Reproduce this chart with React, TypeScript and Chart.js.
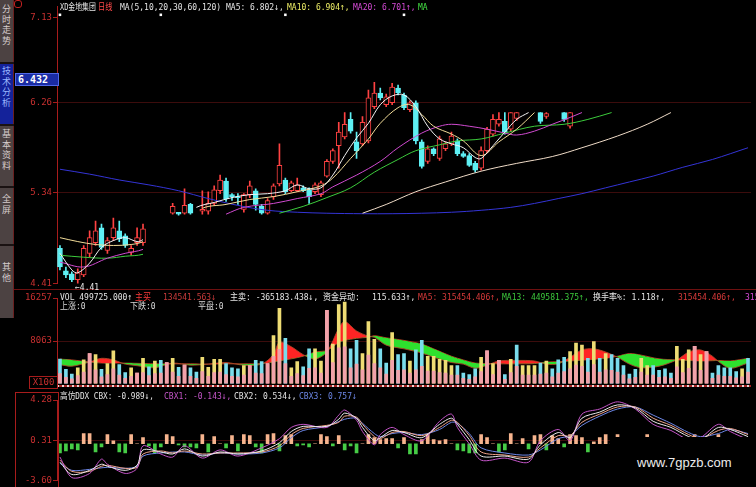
import { useEffect, useRef } from "react";
import { Chart, registerables } from "chart.js";

Chart.register(...registerables);

// ---------------- data ----------------
const BAR_COUNT = 117;
const dayLabels: string[] = Array.from({ length: BAR_COUNT }, (_, i) => `D${i + 1}`);

const priceTicks = [4.41, 5.34, 6.26, 7.13];
const volumeTicks = [8063, 16257];
const cbxTicks = [-3.6, 0.31, 4.28];

// [bar, open, high, low, close]
const candles: [number, number, number, number, number][] = [
  [0, 4.77, 4.8, 4.55, 4.58], [1, 4.54, 4.58, 4.47, 4.5], [2, 4.51, 4.53, 4.43, 4.45],
  [3, 4.45, 4.56, 4.41, 4.52], [4, 4.5, 4.8, 4.48, 4.77], [5, 4.72, 4.95, 4.68, 4.88],
  [6, 4.83, 5.05, 4.8, 4.95], [7, 4.98, 5.02, 4.76, 4.78], [8, 4.75, 4.88, 4.72, 4.85],
  [9, 4.88, 5.08, 4.85, 4.98], [10, 4.95, 5.05, 4.84, 4.87], [11, 4.9, 4.92, 4.78, 4.8],
  [12, 4.73, 4.8, 4.7, 4.77], [13, 4.83, 4.98, 4.8, 4.88], [14, 4.83, 5.02, 4.8, 4.97],
  [19, 5.13, 5.23, 5.12, 5.2], [20, 5.14, 5.14, 5.11, 5.12], [21, 5.13, 5.38, 5.12, 5.21],
  [22, 5.22, 5.23, 5.12, 5.13], [24, 5.15, 5.36, 5.12, 5.17], [25, 5.15, 5.35, 5.12, 5.23],
  [26, 5.23, 5.41, 5.21, 5.37], [27, 5.36, 5.52, 5.33, 5.47], [28, 5.46, 5.49, 5.25, 5.28],
  [29, 5.32, 5.33, 5.26, 5.3], [30, 5.3, 5.33, 5.22, 5.29], [31, 5.17, 5.33, 5.14, 5.32],
  [32, 5.32, 5.46, 5.29, 5.41], [33, 5.36, 5.38, 5.16, 5.22], [34, 5.2, 5.22, 5.12, 5.13],
  [35, 5.13, 5.28, 5.12, 5.26], [36, 5.3, 5.43, 5.27, 5.41], [37, 5.43, 5.84, 5.41, 5.62],
  [38, 5.47, 5.49, 5.33, 5.35], [39, 5.36, 5.46, 5.35, 5.44], [40, 5.36, 5.49, 5.35, 5.42],
  [41, 5.39, 5.41, 5.35, 5.36], [42, 5.37, 5.39, 5.23, 5.3], [43, 5.35, 5.44, 5.33, 5.42],
  [44, 5.32, 5.46, 5.3, 5.44], [45, 5.51, 5.68, 5.5, 5.66], [46, 5.66, 5.79, 5.64, 5.77],
  [47, 5.82, 6.06, 5.59, 5.96], [48, 5.91, 6.16, 5.89, 6.04], [49, 6.09, 6.16, 5.95, 5.97],
  [50, 5.86, 5.96, 5.69, 5.77], [51, 5.84, 6.12, 5.82, 6.06], [52, 5.87, 6.39, 5.85, 6.31],
  [53, 6.22, 6.47, 6.2, 6.36], [54, 6.36, 6.41, 6.29, 6.31], [55, 6.24, 6.35, 6.22, 6.32],
  [56, 6.26, 6.46, 6.24, 6.42], [57, 6.41, 6.44, 6.34, 6.36], [58, 6.34, 6.36, 6.19, 6.21],
  [59, 6.19, 6.28, 6.17, 6.26], [60, 6.26, 6.28, 5.84, 5.87], [61, 5.86, 5.88, 5.59, 5.61],
  [62, 5.66, 5.82, 5.64, 5.79], [63, 5.79, 5.8, 5.72, 5.74], [64, 5.69, 5.92, 5.67, 5.89],
  [65, 5.79, 5.86, 5.77, 5.84], [66, 5.84, 5.96, 5.82, 5.92], [67, 5.87, 5.89, 5.72, 5.74],
  [68, 5.74, 5.76, 5.7, 5.71], [69, 5.72, 5.74, 5.61, 5.62], [70, 5.64, 5.66, 5.55, 5.57],
  [71, 5.59, 5.81, 5.57, 5.77], [72, 5.77, 6.01, 5.75, 5.99], [73, 5.94, 6.14, 5.92, 6.09],
  [74, 6.04, 6.16, 6.02, 6.09], [75, 6.07, 6.16, 5.94, 5.96], [76, 5.99, 6.16, 5.97, 6.16],
  [77, 6.1, 6.16, 6.08, 6.16], [81, 6.16, 6.16, 6.05, 6.07], [82, 6.12, 6.16, 6.1, 6.15],
  [85, 6.16, 6.16, 6.07, 6.09], [86, 6.02, 6.16, 6.0, 6.16],
];

// moving averages, [bar, value]
const ma5Points: [number, number][] = [
  [0, 4.72], [2, 4.55], [3, 4.52], [5, 4.62], [7, 4.78], [9, 4.85], [11, 4.88], [13, 4.84], [14, 4.86],
  [23, 5.19], [26, 5.24], [29, 5.29], [32, 5.32], [35, 5.33], [38, 5.36], [40, 5.42], [42, 5.38],
  [44, 5.39], [46, 5.52], [48, 5.72], [50, 5.9], [52, 6.05], [54, 6.24], [56, 6.33], [58, 6.34],
  [60, 6.22], [62, 6.02], [64, 5.89], [66, 5.84], [68, 5.8], [70, 5.7], [71, 5.69], [73, 5.82],
  [75, 5.96], [77, 6.09], [79, 6.16],
];
const ma10Points: [number, number][] = [
  [0, 4.88], [3, 4.84], [6, 4.81], [9, 4.8], [12, 4.81], [14, 4.84],
  [24, 5.18], [28, 5.22], [32, 5.27], [36, 5.3], [40, 5.35], [44, 5.41], [46, 5.49], [49, 5.69],
  [52, 5.89], [54, 6.05], [57, 6.21], [59, 6.24], [61, 6.14], [63, 6.02], [66, 5.94], [68, 5.87],
  [71, 5.72], [74, 5.86], [77, 5.99], [80, 6.16],
];
const ma20Points: [number, number][] = [
  [0, 4.63], [4, 4.58], [8, 4.67], [11, 4.72], [14, 4.76],
  [28, 5.12], [31, 5.19], [36, 5.23], [40, 5.28], [44, 5.33], [46, 5.4], [50, 5.52], [54, 5.66],
  [57, 5.8], [61, 5.95], [64, 6.02], [66, 6.04], [69, 6.02], [72, 5.99], [75, 5.95], [77, 5.93],
  [80, 5.97], [83, 6.04], [86, 6.11], [88, 6.16],
];
const ma30Points: [number, number][] = [
  [0, 4.7], [4, 4.68], [8, 4.67], [11, 4.69], [14, 4.71],
  [37, 5.13], [41, 5.2], [45, 5.29], [49, 5.39], [53, 5.55], [57, 5.68], [60, 5.77], [64, 5.83],
  [67, 5.87], [71, 5.89], [75, 5.95], [80, 6.02], [85, 6.04], [89, 6.09], [93, 6.16],
];
const ma60Points: [number, number][] = [
  [51, 5.13], [55, 5.22], [60, 5.35], [65, 5.45], [71, 5.56], [77, 5.64], [83, 5.71], [88, 5.8],
  [94, 5.92], [99, 6.04], [103, 6.16],
];
const ma120Points: [number, number][] = [
  [0, 5.58], [5, 5.53], [10, 5.47], [15, 5.42], [20, 5.36], [25, 5.28], [30, 5.21], [35, 5.16],
  [40, 5.14], [45, 5.13], [51, 5.125], [56, 5.125], [61, 5.13], [66, 5.14], [71, 5.16], [76, 5.19],
  [80, 5.23], [84, 5.28], [88, 5.33], [92, 5.39], [96, 5.45], [100, 5.51], [105, 5.6], [110, 5.68],
  [116, 5.8],
];
const noticeMarks: [number, number][] = [[0, 7.16], [17, 7.16], [38, 7.16], [58, 7.16]];

// volume (x100 shares)
const volTotal = [
  4650, 2700, 1800, 3000, 4500, 5700, 5500, 2700, 3800, 6200,
  3600, 2100, 3000, 2000, 4800, 3200, 4300, 4400, 4000, 4800,
  3100, 3500, 3000, 2200, 5000, 3100, 4600, 4600, 3800, 3000,
  2800, 3400, 3400, 4400, 4200, 3800, 9100, 14300, 8600, 3000,
  4200, 3200, 6600, 6600, 4300, 13900, 7500, 15000, 15500, 6600,
  8200, 5700, 11800, 8400, 6600, 3900, 9700, 5500, 5700, 4300,
  6400, 8200, 5200, 5200, 4600, 4400, 3400, 3400, 2000, 1700,
  2800, 5000, 6200, 3800, 4400, 1700, 4600, 7300, 3400, 3400,
  3400, 3900, 4300, 2800, 4500, 5000, 6100, 7700, 7300, 4800,
  8000, 4800, 5700, 5500, 4800, 3400, 1800, 2700, 4800, 3400,
  3400, 2500, 2800, 2000, 7100, 4600, 6400, 7100, 5500, 6100,
  2000, 3400, 3000, 3000, 2300, 2800, 4800,
];
const volBase = [
  1900, 1200, 900, 1500, 2200, 5700, 2600, 1300, 1700, 2800,
  1600, 1000, 1400, 2000, 2100, 1500, 1900, 2000, 4000, 2200,
  1400, 3500, 1400, 1000, 2300, 1400, 2100, 2200, 1700, 1400,
  1300, 1600, 3400, 2000, 1900, 3800, 5200, 6500, 3800, 1400,
  1900, 1500, 2900, 3000, 2000, 13900, 4000, 6800, 7000, 3000,
  3700, 2600, 5400, 3800, 3000, 1800, 4400, 2500, 2600, 2000,
  2600, 3300, 2400, 2400, 2100, 2000, 1600, 1600, 1000, 800,
  1300, 2300, 6200, 1700, 4400, 800, 2100, 3300, 1600, 1600,
  1600, 1800, 2000, 1300, 2000, 2300, 2800, 3500, 3300, 2200,
  3600, 2200, 2600, 2500, 2200, 1600, 900, 1200, 2200, 1600,
  1600, 1200, 1300, 1000, 3200, 2100, 2900, 7100, 2500, 6100,
  1000, 1600, 1400, 1400, 1100, 1300, 2200,
];
// top colour of each volume bar: c = falling, y = rising, p = heavy selling
const volTone =
  "cccyypycyy" + "ccypycycpy" + "cpccyyyycc" + "cypccpyycy" + "yccyypyyyc" +
  "cyyyccyccy" + "ccyyyyyccc" + "cypypcycyy" + "ycycccyyyc" + "ycycccccyy" +
  "ccccyyypyp" + "cccccyc";

// volume averages (fast / slow), [bar, value]
const volMa5Points: [number, number][] = [
  [0, 3600], [2, 3300], [5, 4100], [7, 4800], [9, 4500], [11, 3700], [13, 3400], [16, 3000],
  [19, 3900], [22, 3500], [25, 3700], [28, 4000], [31, 3500], [34, 3700], [36, 5500], [37, 7850],
  [39, 7000], [41, 5500], [43, 4650], [45, 6000], [47, 10500], [48, 11800], [50, 10000], [52, 9000],
  [53, 8800], [55, 7300], [58, 6600], [61, 5800], [63, 5000], [66, 4000], [68, 3700], [70, 2900],
  [72, 3500], [74, 4300], [77, 4400], [80, 4300], [82, 3700], [84, 3750], [86, 5000], [88, 6400],
  [90, 6600], [92, 6000], [94, 5000], [96, 3700], [98, 3000], [101, 3300], [104, 4500], [106, 6000],
  [108, 6400], [110, 5200], [111, 4200], [113, 2900], [116, 3900],
];
const volMa13Points: [number, number][] = [
  [0, 4650], [2, 4500], [5, 4100], [7, 3900], [9, 3900], [11, 3900], [13, 3850], [16, 3750],
  [19, 3750], [22, 3750], [25, 3700], [28, 3750], [31, 3750], [34, 3800], [36, 4100], [37, 4300],
  [39, 4700], [41, 5200], [43, 6000], [45, 6300], [47, 7800], [48, 8200], [50, 8600], [52, 8800],
  [53, 9100], [55, 8700], [58, 8200], [61, 7500], [63, 6600], [66, 5200], [68, 4500], [70, 3900],
  [72, 3800], [74, 3750], [77, 3750], [80, 3800], [82, 4100], [84, 4150], [86, 4300], [88, 4450],
  [90, 4600], [92, 4800], [94, 5200], [96, 5700], [98, 5400], [101, 4700], [104, 4500], [106, 4400],
  [108, 4300], [110, 4350], [111, 4400], [113, 4300], [116, 4800],
];

// 高仿DDX
const cbxBars = [
  -0.9, -0.7, -0.5, -0.6, 1.0, 1.0, -0.8, -0.3, 0.9, 0.3,
  -0.8, -0.9, 0.9, 0, 0.6, -0.2, -0.9, -0.3, 0.9, 0.7,
  -0.1, -0.3, -0.3, -0.4, 0.9, -0.8, 0.7, 0, -0.4, 0.8,
  -0.7, 0.9, 0.8, -0.3, -0.9, 0.9, 1.0, -0.7, 0.8, 0.9,
  -0.2, -0.1, -0.3, 0, 0.9, 0.7, -0.2, 0.8, -0.6, -0.2,
  -0.9, 0, 0.9, 0.6, 0.4, 0.5, 0.5, -0.4, 0.6, -1.0,
  -1.0, 0.4, 0.9, 0.4, 0.3, 0.4, 0, -0.6, -0.7, -0.9,
  -0.9, 0.9, 0.6, 0, -0.8, -0.6, 1.0, 0, 0.5, -0.5,
  0.8, 0.9, -0.6, 0.8, 0.5, -0.3, 0.9, 0.8, 0.6, -0.8,
  0.2, 0.6, 0.9, 0, 0.9, 0, 0, 0, 0, 0.9,
  0, 0, 0, 0, 0, 0, 0, 0.9, 0, 0,
  0, 0.9, 0, 0, 0, 0, 0,
];
const cbxPoints: [number, number][] = [
  [0, -1.8], [2, -3.0], [5, -2.6], [7, -2.0], [8, -2.2], [11, -2.6], [13, -2.1], [14, -0.6],
  [17, -0.8], [19, -1.0], [21, -0.5], [24, -1.2], [27, -0.8], [30, -1.0], [34, -0.7], [37, 0.1],
  [39, 1.2], [41, 1.7], [45, 1.7], [47, 2.4], [48, 3.0], [50, 2.5], [51, 1.6], [53, 0.3],
  [54, 0.6], [56, 1.3], [58, 1.1], [61, 0.6], [64, 1.9], [66, 2.5], [67, 1.9], [69, 0.4],
  [71, -1.2], [75, -1.2], [79, -1.5], [81, -0.1], [84, 1.1], [86, 0.6], [88, 2.5], [91, 3.1],
  [94, 3.8], [97, 3.5], [100, 2.2], [103, 1.6], [106, 0.7], [108, 0.4], [111, 1.6], [113, 1.4],
  [116, 0.7],
];
const cbx1Points: [number, number][] = [
  [0, -1.3], [2, -3.3], [5, -2.9], [7, -1.5], [8, -2.0], [11, -2.9], [13, -2.4], [14, -0.2],
  [17, -1.0], [19, -1.3], [21, -0.2], [24, -1.4], [27, -0.6], [30, -1.2], [34, -0.4], [37, 0.5],
  [39, 1.6], [41, 1.9], [45, 1.6], [47, 2.8], [48, 3.3], [50, 2.3], [51, 1.2], [53, -0.1],
  [54, 0.9], [56, 1.6], [58, 0.9], [61, 0.3], [64, 2.2], [66, 2.9], [67, 1.6], [69, 0.0],
  [71, -1.6], [75, -1.4], [79, -1.8], [81, 0.3], [84, 1.4], [86, 0.3], [88, 2.9], [91, 3.4],
  [94, 4.1], [97, 3.4], [100, 1.9], [103, 1.3], [106, 0.4], [108, 0.6], [111, 1.9], [113, 1.2],
  [116, 0.4],
];
const cbx2Points: [number, number][] = [
  [0, -1.6], [2, -2.7], [5, -2.7], [7, -2.2], [8, -2.1], [11, -2.4], [13, -2.3], [14, -1.0],
  [17, -0.7], [19, -0.9], [21, -0.7], [24, -1.0], [27, -0.9], [30, -0.9], [34, -0.8], [37, -0.2],
  [39, 0.9], [41, 1.5], [45, 1.8], [47, 2.1], [48, 2.7], [50, 2.6], [51, 1.9], [53, 0.7],
  [54, 0.5], [56, 1.1], [58, 1.2], [61, 0.8], [64, 1.6], [66, 2.3], [67, 2.1], [69, 0.8],
  [71, -0.8], [75, -1.1], [79, -1.3], [81, -0.4], [84, 0.8], [86, 0.8], [88, 2.1], [91, 2.9],
  [94, 3.6], [97, 3.6], [100, 2.5], [103, 1.8], [106, 0.9], [108, 0.5], [111, 1.3], [113, 1.5],
  [116, 0.9],
];
const cbx3Points: [number, number][] = [
  [0, -1.9], [2, -2.6], [5, -2.5], [8, -2.3], [11, -2.4], [13, -2.2], [14, -1.2], [17, -0.9],
  [21, -0.8], [24, -1.1], [27, -0.9], [30, -1.0], [34, -0.9], [37, -0.4], [39, 0.6], [41, 1.3],
  [45, 1.7], [48, 2.4], [50, 2.5], [51, 2.0], [53, 1.0], [54, 0.7], [56, 1.0], [58, 1.1],
  [61, 0.9], [64, 1.4], [66, 2.1], [67, 2.0], [69, 1.0], [71, -0.4], [75, -0.9], [79, -1.1],
  [81, -0.6], [84, 0.5], [86, 0.8], [88, 1.8], [91, 2.7], [94, 3.4], [97, 3.6], [100, 2.8],
  [103, 2.0], [106, 1.1], [108, 0.7], [111, 1.0], [113, 1.4], [116, 1.0],
];

// ---------------- styling ----------------
const UP = "#ff4242";
const DOWN = "#5ef0f4";
const AXIS_RED = "#a81c1c";
const LABEL_RED = "#c83030";
const MONO = "'DejaVu Sans Mono', 'Noto Sans CJK SC', monospace";

const toPoints = (pts: [number, number][]) => pts.map(([i, v]) => ({ x: dayLabels[i], y: v }));

const maLine = (label: string, pts: [number, number][], color: string, order: number) => ({
  type: "line",
  label,
  data: toPoints(pts),
  borderColor: color,
  borderWidth: 1,
  pointRadius: 0,
  tension: 0.35,
  spanGaps: 6,
  order,
});

function yAxis(
  min: number,
  max: number,
  ticks: number[],
  fmt: (v: number) => string,
  gridAt: number[],
) {
  return {
    min,
    max,
    position: "left",
    afterFit: (s: any) => {
      s.width = 43;
    },
    afterBuildTicks: (s: any) => {
      s.ticks = ticks.map((v) => ({ value: v }));
    },
    ticks: {
      color: LABEL_RED,
      font: { family: MONO, size: 9 },
      padding: 1,
      autoSkip: false,
      callback: (v: any) => fmt(Number(v)),
    },
    grid: {
      color: (ctx: any) =>
        ctx.tick && gridAt.includes(ctx.tick.value) ? "rgba(110,22,22,0.55)" : "rgba(0,0,0,0)",
      tickColor: AXIS_RED,
      tickLength: 4,
      lineWidth: 1,
    },
    border: { color: AXIS_RED, width: 1 },
  };
}

const baseOptions = (padding: any, y: any) => ({
  responsive: false,
  animation: false,
  devicePixelRatio: 1,
  events: [],
  layout: { padding },
  plugins: { legend: { display: false }, tooltip: { enabled: false } },
  scales: { x: { display: false, offset: true }, y },
});

function priceConfig(): any {
  const rising = candles.map(([, o, , , c]) => c >= o);
  return {
    type: "bar",
    data: {
      labels: dayLabels,
      datasets: [
        {
          type: "line",
          label: "notice",
          data: toPoints(noticeMarks),
          showLine: false,
          pointStyle: "rect",
          pointRadius: 1.8,
          pointBackgroundColor: "#ffffff",
          pointBorderWidth: 0,
          clip: false,
          order: 0,
        },
        maLine("MA5", ma5Points, "#f4f4f4", 1),
        maLine("MA10", ma10Points, "#f2dc98", 2),
        maLine("MA20", ma20Points, "#d04ad0", 3),
        maLine("MA30", ma30Points, "#3ccc3c", 4),
        maLine("MA60", ma60Points, "#f0dcc8", 5),
        maLine("MA120", ma120Points, "#3434d6", 6),
        {
          type: "bar",
          label: "body",
          data: candles.map(([i, o, , , c]) => ({ x: dayLabels[i], y: [o, c] })),
          backgroundColor: rising.map((r) => (r ? "#000000" : DOWN)),
          borderColor: rising.map((r) => (r ? UP : DOWN)),
          borderWidth: 1,
          borderSkipped: false,
          barThickness: 5,
          minBarLength: 1,
          grouped: false,
          order: 8,
        },
        {
          type: "bar",
          label: "wick",
          data: candles.map(([i, , h, l]) => ({ x: dayLabels[i], y: [l, h] })),
          backgroundColor: rising.map((r) => (r ? UP : DOWN)),
          barThickness: 1,
          grouped: false,
          order: 9,
        },
      ],
    },
    options: baseOptions(
      { top: 3, bottom: 2, left: 0, right: 5 },
      yAxis(4.41, 7.246, priceTicks, (v) => v.toFixed(2), [5.34, 6.26]),
    ),
  };
}

function volumeConfig(): any {
  const toneColor: Record<string, string> = { c: "#7adcec", y: "#eedc74", p: "#f29aa2" };
  return {
    type: "bar",
    data: {
      labels: dayLabels,
      datasets: [
        {
          label: "base",
          data: volBase,
          backgroundColor: "#f2a2aa",
          barThickness: 3,
          grouped: false,
          order: 1,
        },
        {
          label: "VOL",
          data: volTotal,
          backgroundColor: volTone.split("").map((t) => toneColor[t]),
          barThickness: 3,
          grouped: false,
          order: 2,
        },
        {
          type: "line",
          label: "MA5",
          data: toPoints(volMa5Points),
          borderColor: "rgba(170,70,40,0.9)",
          borderWidth: 1,
          pointRadius: 0,
          tension: 0.3,
          fill: { target: 3, above: "#ff2424", below: "#2ee02e" },
          order: 5,
        },
        {
          type: "line",
          label: "MA13",
          data: toPoints(volMa13Points),
          borderColor: "rgba(170,70,40,0.9)",
          borderWidth: 1,
          pointRadius: 0,
          tension: 0.3,
          order: 6,
        },
      ],
    },
    options: baseOptions(
      { top: 8, bottom: 1, left: 0, right: 5 },
      yAxis(0, 16257, volumeTicks, (v) => String(Math.round(v)), [8063]),
    ),
  };
}

function cbxConfig(): any {
  const cbxLine = (label: string, pts: [number, number][], color: string, order: number) => ({
    type: "line",
    label,
    data: toPoints(pts),
    borderColor: color,
    borderWidth: 1,
    pointRadius: 0,
    tension: 0.3,
    spanGaps: 6,
    order,
  });
  return {
    type: "bar",
    data: {
      labels: dayLabels,
      datasets: [
        cbxLine("CBX3", cbx3Points, "#6c86e6", 4),
        cbxLine("CBX2", cbx2Points, "#f0a48a", 3),
        cbxLine("CBX1", cbx1Points, "#c455c8", 2),
        cbxLine("CBX", cbxPoints, "#ececec", 1),
        {
          label: "DDX",
          data: cbxBars,
          backgroundColor: cbxBars.map((v) => (v >= 0 ? "#f6b48e" : "#46cc46")),
          barThickness: 3,
          grouped: false,
          order: 6,
        },
      ],
    },
    options: baseOptions(
      { top: 10, bottom: 6, left: 0, right: 5 },
      yAxis(-3.6, 4.28, cbxTicks, (v) => v.toFixed(2), [0.31]),
    ),
  };
}

// ---------------- page ----------------
// [left, text, colour, horizontal squeeze]
type Seg = [number, string, string, number?];

const priceHeader: Seg[] = [
  [60, "XD金地集团", "#e4e4e4", 0.86],
  [98, "日线", "#ff4a4a", 0.9],
  [120, "MA(5,10,20,30,60,120)", "#e4e4e4"],
  [226, "MA5: 6.802↓,", "#e4e4e4"],
  [287, "MA10: 6.904↑,", "#eeee66"],
  [353, "MA20: 6.701↑,", "#d84cd8"],
  [418, "MA", "#44e044"],
];
const volumeHeader: Seg[] = [
  [60, "VOL 499725.000↑", "#e4e4e4"],
  [135, "主买", "#ff3a3a"],
  [163, "134541.563↓", "#c83a3a"],
  [230, "主卖: -365183.438↓, 资金异动:", "#e4e4e4"],
  [372, "115.633↑,", "#e4e4e4"],
  [418, "MA5: 315454.406↑,", "#d83a3a"],
  [502, "MA13: 449581.375↑,", "#3cc83c"],
  [593, "换手率%: 1.118↑,", "#e4e4e4"],
  [678, "315454.406↑,", "#d83a3a"],
  [745, "3154", "#d84cd8"],
];
const volumeSubHeader: Seg[] = [
  [60, "上涨:0", "#d8d8d8"],
  [130, "下跌:0", "#d8d8d8"],
  [198, "平盘:0", "#d8d8d8"],
];
const cbxHeader: Seg[] = [
  [60, "高仿DDX CBX: -0.989↓,", "#e4e4e4", 0.96],
  [164, "CBX1: -0.143↓,", "#c455c8"],
  [234, "CBX2: 0.534↓,", "#e4e4e4"],
  [299, "CBX3: 0.757↓", "#6c86e6"],
];

const sideTabs = [
  { label: "分时走势", top: 0, height: 62, textTop: 4, active: false },
  { label: "技术分析", top: 64, height: 60, textTop: 66, active: true },
  { label: "基本资料", top: 126, height: 60, textTop: 129, active: false },
  { label: "全屏", top: 188, height: 56, textTop: 194, active: false },
  { label: "其他", top: 246, height: 72, textTop: 262, active: false },
];

function TextRow({ y, segs }: { y: number; segs: Seg[] }) {
  return (
    <>
      {segs.map(([x, t, c, sx], k) => (
        <div
          key={k}
          style={{
            position: "absolute",
            left: x,
            top: y,
            font: `8px ${MONO}`,
            lineHeight: "10px",
            color: c,
            whiteSpace: "pre",
            transform: `scale(${sx ?? 1}, 1.15)`,
            transformOrigin: "0 0",
            pointerEvents: "none",
          }}
        >
          {t}
        </div>
      ))}
    </>
  );
}

export default function App() {
  const priceRef = useRef<HTMLCanvasElement>(null);
  const volRef = useRef<HTMLCanvasElement>(null);
  const cbxRef = useRef<HTMLCanvasElement>(null);

  useEffect(() => {
    const charts = [
      new Chart(priceRef.current as HTMLCanvasElement, priceConfig()),
      new Chart(volRef.current as HTMLCanvasElement, volumeConfig()),
      new Chart(cbxRef.current as HTMLCanvasElement, cbxConfig()),
    ];
    return () => charts.forEach((c) => c.destroy());
  }, []);

  const abs = (s: any) => ({ position: "absolute", ...s });

  return (
    <div
      style={{
        position: "fixed",
        left: 0,
        top: 0,
        width: 756,
        height: 487,
        background: "#000",
        overflow: "hidden",
      }}
    >
      <canvas ref={priceRef} width={742} height={290} style={abs({ left: 14, top: 0 })} />
      <canvas ref={volRef} width={742} height={100} style={abs({ left: 14, top: 290 })} />
      <canvas ref={cbxRef} width={742} height={97} style={abs({ left: 14, top: 390 })} />

      {/* panel separators */}
      <div style={abs({ left: 14, top: 289, width: 742, height: 1, background: "#6e1010" })} />
      <div
        style={abs({
          left: 57,
          top: 385,
          width: 694,
          height: 2,
          background: "repeating-linear-gradient(90deg, #eadada 0 2px, #a52222 2px 5px)",
        })}
      />
      <div style={abs({ left: 15, top: 392, width: 42, height: 100, border: `1px solid ${AXIS_RED}` })} />
      <div
        style={abs({
          left: 29,
          top: 376,
          width: 27,
          height: 11,
          border: `1px solid ${AXIS_RED}`,
          color: LABEL_RED,
          font: `9px ${MONO}`,
          lineHeight: "11px",
          textAlign: "center",
        })}
      >
        X100
      </div>

      {/* current price tag */}
      <div
        style={abs({
          left: 15,
          top: 73,
          width: 40,
          height: 11,
          background: "#1a2ca4",
          border: "1px solid #5068e8",
          color: "#ffffff",
          font: `bold 10px ${MONO}`,
          lineHeight: "11px",
          paddingLeft: 2,
        })}
      >
        6.432
      </div>
      <div style={abs({ left: 14, top: 0, width: 6, height: 6, borderRadius: 3, border: "1px solid #c02020" })} />

      {/* lowest price note */}
      <div style={abs({ left: 75, top: 283, color: "#e8e8e8", font: `8px ${MONO}`, lineHeight: "9px", whiteSpace: "pre" })}>
        ←4.41
      </div>

      <TextRow y={2} segs={priceHeader} />
      <TextRow y={292} segs={volumeHeader} />
      <TextRow y={301} segs={volumeSubHeader} />
      <TextRow y={391} segs={cbxHeader} />

      {/* side tabs */}
      <div style={abs({ left: 0, top: 0, width: 14, height: 318, background: "#1a1212" })} />
      {sideTabs.map((t) => (
        <div
          key={t.label}
          style={abs({
            left: 0,
            top: t.top,
            width: 13,
            height: t.height,
            background: t.active ? "#14229a" : "#4c4242",
            borderRight: "1px solid #6a2020",
          })}
        />
      ))}
      {sideTabs.map((t) => (
        <div
          key={t.label + "-txt"}
          style={abs({
            left: 0,
            top: t.textTop,
            width: 13,
            color: t.active ? "#9ab6ff" : "#d6cccc",
            font: "9px 'Noto Sans CJK SC'",
            lineHeight: "10.5px",
            textAlign: "center",
          })}
        >
          {t.label.split("").map((ch, k) => (
            <div key={k}>{ch}</div>
          ))}
        </div>
      ))}

      {/* watermark */}
      <div style={abs({ left: 610, top: 437, width: 146, height: 50, background: "#000" })} />
      <div
        style={abs({
          left: 637,
          top: 455,
          color: "#ececec",
          font: "13px 'Liberation Sans', Arial, sans-serif",
          whiteSpace: "pre",
        })}
      >
        www.7gpzb.com
      </div>
    </div>
  );
}
